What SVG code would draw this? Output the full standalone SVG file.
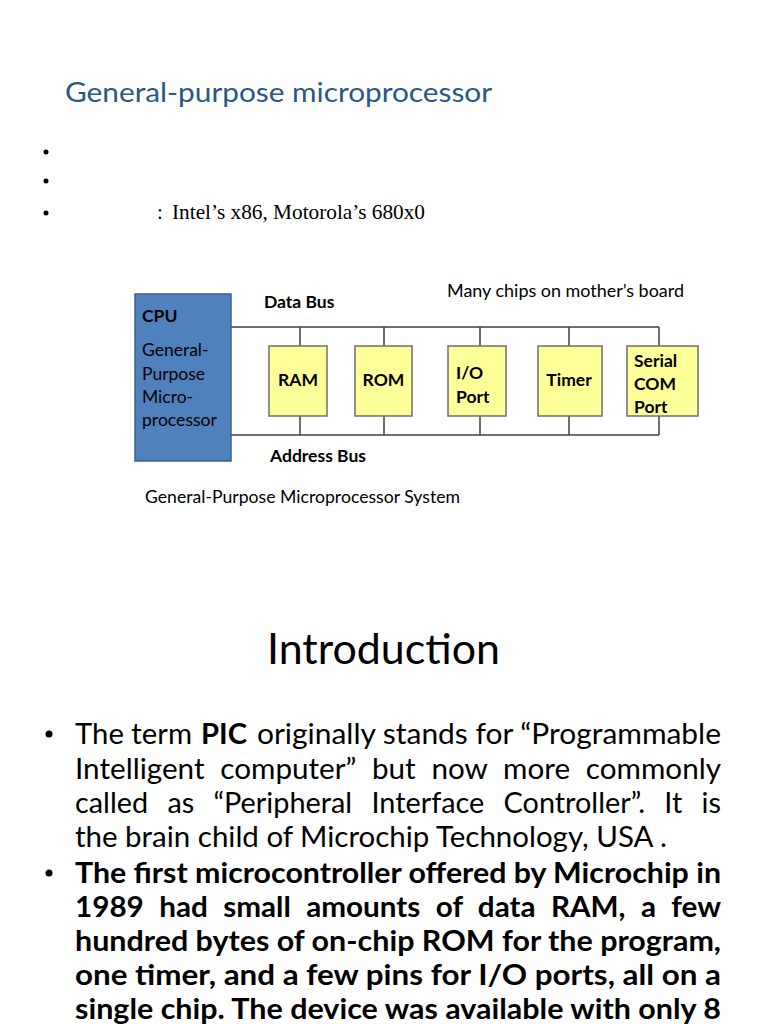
<svg xmlns="http://www.w3.org/2000/svg" width="768" height="1024" viewBox="0 0 768 1024">
<style>
.s{font-family:Lato,"Noto Sans","Liberation Sans",sans-serif;fill:#000}
.b{font-weight:bold}
.serif{font-family:"Liberation Serif","DejaVu Serif",serif;fill:#000}
.chip{fill:#ffff99;stroke:#6e6e6e;stroke-width:1.5}
.bus{stroke:#404040;stroke-width:1.5;fill:none}
.lbl{font-size:17.5px}
.body{font-size:29px}
</style>
<rect width="768" height="1024" fill="#fff"/>

<g id="heading">
<text class="s" x="65" y="102" font-size="26" style="fill:#2a5788" textLength="427" lengthAdjust="spacingAndGlyphs">General-purpose microprocessor</text>
<circle cx="46" cy="152" r="2.5" fill="#000"/>
<circle cx="46" cy="181" r="2.5" fill="#000"/>
<circle cx="46" cy="213" r="2.5" fill="#000"/>
<text class="serif" x="157" y="219" font-size="21">:</text>
<text class="serif" x="172" y="219" font-size="21" textLength="253" lengthAdjust="spacingAndGlyphs">Intel’s x86, Motorola’s 680x0</text>
</g>

<g id="connectors">
<path class="bus" d="M231 327H659M231 435H659"/>
<path class="bus" d="M300 327V346M384 327V346M480 327V346M569 327V346M659 327V346"/>
<path class="bus" d="M300 416V435M384 416V435M480 416V435M569 416V435M659 416V435"/>
</g>

<g id="cpu">
<rect x="135" y="294" width="96" height="167" fill="#4f81bd" stroke="#3a5f8c" stroke-width="1.5"/>
<text class="s b lbl" x="142" y="322">CPU</text>
<text class="s lbl" x="142" y="356">General-</text>
<text class="s lbl" x="142" y="380">Purpose</text>
<text class="s lbl" x="142" y="403">Micro-</text>
<text class="s lbl" x="142" y="426" textLength="75" lengthAdjust="spacingAndGlyphs">processor</text>
</g>

<g id="ram">
<rect class="chip" x="269" y="346" width="58" height="70"/>
<text class="s b lbl" x="298" y="386" text-anchor="middle">RAM</text>
</g>
<g id="rom">
<rect class="chip" x="355" y="346" width="57" height="70"/>
<text class="s b lbl" x="383.5" y="386" text-anchor="middle">ROM</text>
</g>
<g id="io">
<rect class="chip" x="448" y="346" width="58" height="70"/>
<text class="s b lbl" x="456" y="379">I/O</text>
<text class="s b lbl" x="456" y="403">Port</text>
</g>
<g id="timer">
<rect class="chip" x="538" y="346" width="64" height="70"/>
<text class="s b lbl" x="569" y="386" text-anchor="middle">Timer</text>
</g>
<g id="serial">
<rect class="chip" x="627" y="346" width="71" height="70"/>
<text class="s b lbl" x="634" y="367">Serial</text>
<text class="s b lbl" x="634" y="390">COM</text>
<text class="s b lbl" x="634" y="413">Port</text>
</g>

<g id="labels">
<text class="s b lbl" x="264" y="308">Data Bus</text>
<text class="s b lbl" x="270" y="462">Address Bus</text>
<text class="s lbl" x="447" y="297" textLength="237" lengthAdjust="spacingAndGlyphs">Many chips on mother’s board</text>
<text class="s lbl" x="145" y="503" textLength="315" lengthAdjust="spacingAndGlyphs">General-Purpose Microprocessor System</text>
</g>

<g id="intro">
<text class="s" x="267" y="664" font-size="43" textLength="233" lengthAdjust="spacingAndGlyphs">Introduction</text>
<circle cx="49" cy="734" r="3.5" fill="#000"/>
<circle cx="49" cy="873" r="3.5" fill="#000"/>
<text class="s body" x="75" y="744" textLength="117" lengthAdjust="spacingAndGlyphs">The term</text>
<text class="s body b" x="201" y="744" textLength="46" lengthAdjust="spacingAndGlyphs">PIC</text>
<text class="s body" x="257" y="744" textLength="464" lengthAdjust="spacingAndGlyphs">originally stands for “Programmable</text>
<text class="s body" x="75" y="779" textLength="646" lengthAdjust="spacingAndGlyphs" word-spacing="8">Intelligent computer” but now more commonly</text>
<text class="s body" x="75" y="813" textLength="646" lengthAdjust="spacingAndGlyphs" word-spacing="12">called as “Peripheral Interface Controller”. It is</text>
<text class="s body" x="75" y="847" textLength="592" lengthAdjust="spacingAndGlyphs">the brain child of Microchip Technology, USA .</text>
<text class="s body b" x="75" y="883" textLength="646" lengthAdjust="spacingAndGlyphs">The first microcontroller offered by Microchip in</text>
<text class="s body b" x="75" y="917" textLength="646" lengthAdjust="spacingAndGlyphs" word-spacing="8">1989 had small amounts of data RAM, a few</text>
<text class="s body b" x="75" y="951" textLength="646" lengthAdjust="spacingAndGlyphs">hundred bytes of on-chip ROM for the program,</text>
<text class="s body b" x="75" y="985" textLength="646" lengthAdjust="spacingAndGlyphs">one timer, and a few pins for I/O ports, all on a</text>
<text class="s body b" x="75" y="1019" textLength="646" lengthAdjust="spacingAndGlyphs">single chip. The device was available with only 8</text>
</g>
</svg>
